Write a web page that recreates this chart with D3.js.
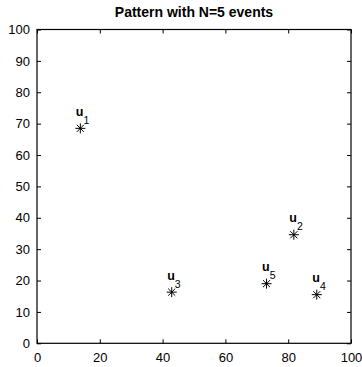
<!DOCTYPE html>
<html><head><meta charset="utf-8">
<script src="https://cdn.jsdelivr.net/npm/d3@7"></script>
<style>body{margin:0;background:#fff}svg{display:block}text{font-family:"Liberation Sans",Arial,sans-serif}</style>
</head><body>
<svg id="c" width="362" height="367"></svg>
<script>
const labels = ["1","2","3","4","5"];
const xs = [13.8, 81.8, 42.9, 89.1, 73.1];
const ys = [68.5, 34.6, 16.3, 15.5, 19.0];
const ticks = [0,10,20,30,40,50,60,70,80,90,100];
const xticks = [0,20,40,60,80,100];
const title = "Pattern with N=5 events";

const svg = d3.select("#c");
const L=37, R=351, T=29.5, B=343.3;
const x = d3.scaleLinear().domain([0,100]).range([L,R]);
const y = d3.scaleLinear().domain([0,100]).range([B,T]);

const fs = "13px";
svg.append("g").attr("transform",`translate(0,${B})`)
  .call(d3.axisBottom(x).tickValues(xticks).tickSize(-4).tickPadding(9))
  .call(g=>g.select(".domain").remove());
svg.append("g").attr("transform",`translate(0,${T})`)
  .call(d3.axisTop(x).tickValues(xticks).tickSize(-4).tickFormat(""))
  .call(g=>g.select(".domain").remove());
svg.append("g").attr("transform",`translate(${L},0)`)
  .call(d3.axisLeft(y).tickValues(ticks).tickSize(-4).tickPadding(7))
  .call(g=>g.select(".domain").remove());
svg.append("g").attr("transform",`translate(${R},0)`)
  .call(d3.axisRight(y).tickValues(ticks).tickSize(-4).tickFormat(""))
  .call(g=>g.select(".domain").remove());
svg.selectAll(".tick text").attr("font-size",fs).attr("font-family","Liberation Sans, Arial, sans-serif").attr("fill","#000");
svg.selectAll(".tick line").attr("stroke","#000");
svg.append("rect").attr("x",L).attr("y",T).attr("width",R-L).attr("height",B-T)
  .attr("fill","none").attr("stroke","#000").attr("stroke-width",1.2);

svg.append("text").attr("x",(L+R)/2).attr("y",17).attr("text-anchor","middle")
  .attr("font-size","14px").attr("font-weight","bold").text(title);

const g = svg.append("g");
labels.forEach((lab,i)=>{
  const cx=x(xs[i]), cy=y(ys[i]), r=5;
  const p = g.append("g").attr("stroke","#000").attr("stroke-width",1);
  [0,45,90,135].forEach(a=>{
    const t=a*Math.PI/180;
    p.append("line").attr("x1",cx-r*Math.cos(t)).attr("y1",cy-r*Math.sin(t))
      .attr("x2",cx+r*Math.cos(t)).attr("y2",cy+r*Math.sin(t));
  });
  const tx = g.append("text").attr("x",cx-4.5).attr("y",cy-12.5).attr("font-size","12.5px");
  tx.append("tspan").attr("font-weight","bold").text("u");
  tx.append("tspan").attr("dy",8).attr("font-size","10.5px").text(lab);
});
</script>
</body></html>
